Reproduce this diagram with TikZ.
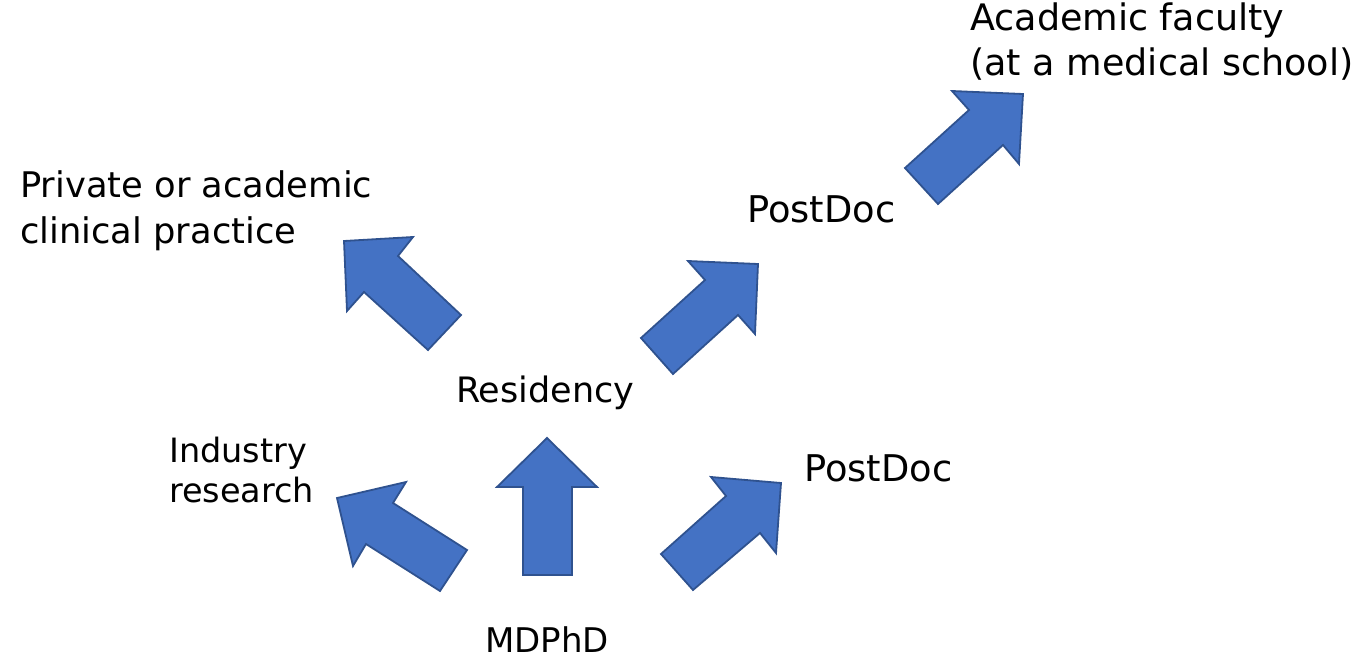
\documentclass[tikz,border=0pt]{standalone}
\usepackage{fontspec}
\setmainfont{DejaVu Sans}
\definecolor{arrowfill}{HTML}{4472C4}
\definecolor{arrowedge}{HTML}{2F528F}
\tikzset{
  blockarrow/.style={fill=arrowfill, draw=arrowedge, line width=1.8pt, line join=miter},
  lbl/.style={anchor=base west, inner sep=0pt, align=left, text=black},
}
\begin{document}
\begin{tikzpicture}[x=1pt,y=-1pt]
\useasboundingbox (0,0) rectangle (1363,658);
% labels (base anchor = baseline of the last line)
\node[lbl, font=\fontsize{35.3}{46}\selectfont] (private) at (20,243) {Private or academic\\clinical practice};
\node[lbl, font=\fontsize{36.5}{45}\selectfont] (faculty) at (970,76) {Academic faculty\\(at a medical school)};
\node[lbl, font=\fontsize{36.8}{44}\selectfont] (postdocA) at (747,222) {PostDoc};
\node[lbl, font=\fontsize{35}{40}\selectfont] (residency) at (456,402) {Residency};
\node[lbl, font=\fontsize{33.5}{40}\selectfont] (industry) at (169,502) {Industry\\research};
\node[lbl, font=\fontsize{36.8}{44}\selectfont] (postdocB) at (804,481) {PostDoc};
\node[lbl, font=\fontsize{34}{40}\selectfont] (mdphd) at (485,652) {MDPhD};
% block arrows
\draw[blockarrow] (344,241) -- (413,237) -- (398,256) -- (461,315) -- (428,350) -- (364,292) -- (347,311) -- cycle;
\draw[blockarrow] (688,261) -- (758,264) -- (755,334) -- (738,315) -- (673,374) -- (641,338) -- (705,280) -- cycle;
\draw[blockarrow] (952,91) -- (1023,94) -- (1019,164) -- (1003,145) -- (938,204) -- (905,168) -- (969,110) -- cycle;
\draw[blockarrow] (337,498) -- (406,482) -- (393,503) -- (467,550) -- (440,591) -- (366,544) -- (353,566) -- cycle;
\draw[blockarrow] (547,438) -- (597,487) -- (572,487) -- (572,575) -- (523,575) -- (523,487) -- (497,487) -- cycle;
\draw[blockarrow] (711,477) -- (781,483) -- (776,553) -- (760,533) -- (693,590) -- (661,554) -- (726,496) -- cycle;
\end{tikzpicture}
\end{document}
